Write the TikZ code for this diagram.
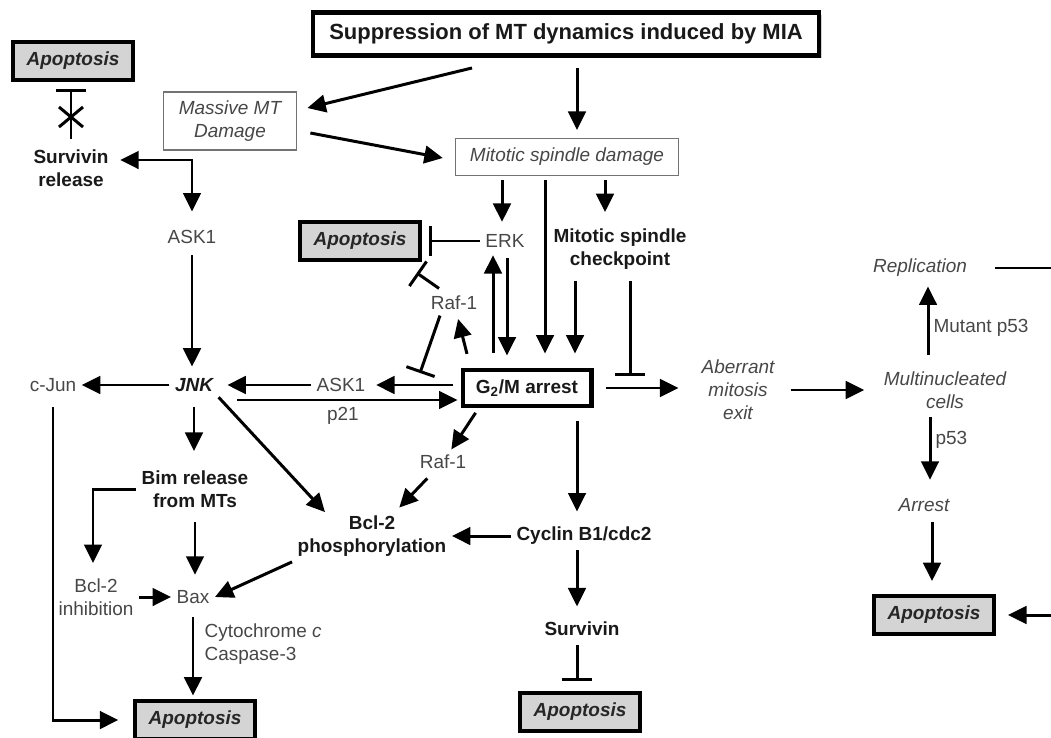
\documentclass[tikz,border=0pt]{standalone}
\usepackage{fontspec}
\setmainfont{Liberation Sans}
\usetikzlibrary{arrows.meta,shadows}

\begin{document}
\begin{tikzpicture}[x=0.02cm, y=-0.02cm,
    >={Triangle[length=10.5pt,width=10pt]},
    lbl/.style={inner sep=3pt, align=center, text=black!72,
                font=\fontsize{10.8}{13}\selectfont},
    bold/.style={lbl, text=black!90, font=\fontsize{10.8}{13}\selectfont\bfseries},
    ital/.style={lbl, font=\fontsize{10.8}{13}\selectfont\itshape},
    thin/.style={ital, draw=black!55, line width=0.7pt},
    apop/.style={draw, line width=2.3pt, fill=black!17, minimum width=68pt,
                 minimum height=21.5pt, text=black!85,
                 font=\fontsize{10.8}{13}\selectfont\bfseries\itshape},
    arrow/.style={->, line width=1.7pt},
    inhib/.style={-{Bar[width=17pt]}, line width=1.7pt}
  ]
    \useasboundingbox (0,0) rectangle (1051,737);
    \clip (0,0) rectangle (1051,737);

    \node[bold, draw, fill=white, line width=2.8pt, minimum width=288pt, minimum height=24.5pt,
          drop shadow={shadow xshift=1.5pt, shadow yshift=-1.5pt, opacity=0.35},
          font=\fontsize{12.5}{15}\selectfont\bfseries] (mia) at (566,34)
          {Suppression of MT dynamics induced by MIA};
    \node[apop] (apoTL) at (73,61) {Apoptosis};
    \node[thin, minimum width=76pt, minimum height=33pt] (massive) at (230,121) {Massive MT\\Damage};
    \node[thin, minimum width=127pt, minimum height=21pt] (spindle) at (567,157) {Mitotic spindle damage};
    \node[bold] (survrel) at (71,168) {Survivin\\release};
    \coordinate (split) at (192,160);
    \coordinate (xm) at (71,117);
    \node[lbl] (askA) at (192,237) {ASK1};
    \node[apop] (apoM) at (360,241) {Apoptosis};
    \node[lbl] (erk) at (505,241) {ERK};
    \node[bold] (msc) at (620,249) {Mitotic spindle\\checkpoint};
    \node[lbl] (rafA) at (454,303) {Raf-1};
    \coordinate (blk) at (420,373);
    \coordinate (blk2) at (630,376);
    \node[bold, font=\fontsize{10.8}{13}\selectfont\bfseries\itshape] (jnk) at (194,385) {JNK};
    \node[lbl] (cjun) at (53,385) {c-Jun};
    \node[lbl] (askB) at (341,385) {ASK1};
    \node[bold, draw, line width=2.3pt, minimum width=73.4pt, minimum height=21pt] (gm) at (527,388)
          {G\textsubscript{2}/M arrest};
    \node[ital] (aberr) at (738,390) {Aberrant\\mitosis\\exit};
    \node[ital] (multi) at (945,390) {Multinucleated\\cells};
    \node[ital] (repl) at (920,268) {Replication};
    \coordinate (loop) at (1075,268);
    \node[lbl, anchor=west] (mut) at (928,328) {Mutant p53};
    \node[lbl, anchor=west] (pp) at (930,440) {p53};
    \node[ital] (arrest) at (924,505) {Arrest};
    \node[apop] (apoR) at (934,615) {Apoptosis};
    \node[lbl] (rafB) at (443,462) {Raf-1};
    \node[bold] (bim) at (195,489) {Bim release\\from MTs};
    \node[bold] (bclp) at (372,536) {Bcl-2\\phosphorylation};
    \node[bold] (cyclin) at (584,536) {Cyclin B1/cdc2};
    \node[lbl] (bclinh) at (96,597) {Bcl-2\\inhibition};
    \node[lbl] (bax) at (193,597) {Bax};
    \node[lbl, anchor=west, align=left] (cyto) at (199,644) {Cytochrome \textit{c}\\Caspase-3};
    \node[bold] (survB) at (582,629) {Survivin};
    \node[apop] (apoBC) at (580,712) {Apoptosis};
    \node[apop] (apoBL) at (195,720) {Apoptosis};

    \draw[arrow] ([shift={(-94,10)}]mia.south) -- ([shift={(10,-13)}]massive.east);
    \draw[arrow] ([shift={(11,10)}]mia.south) -- ([shift={(10,-8)}]spindle.north);
    \draw[arrow] ([shift={(13,12)}]massive.east) -- ([shift={(-12,1)}]spindle.west);
    \draw[inhib, shorten <=3pt, shorten >=4pt] (survrel.north) -- (survrel.north |- apoTL.south);
    \draw[line width=1.7pt] (xm) +(-12,-10) -- +(12,10) (xm) +(-12,10) -- +(12,-10);
    \draw[arrow, <->, shorten <=3.5pt, shorten >=7.5pt] (split -| survrel.east) -- (split) -- (askA.north);
    \draw[arrow, shorten <=3.5pt, shorten >=3.5pt] (askA.south) -- (askA.south |- jnk.north);
    \draw[arrow] (jnk) -- (cjun);
    \draw[arrow, shorten <=5.7pt, shorten >=8.5pt] (cjun.south) |- (apoBL.west);
    \draw[arrow, shorten >=5pt] (askB) -- (jnk);
    \draw[arrow, shorten <=4.5pt, shorten >=3pt] (gm.west |- askB) -- (askB);
    \draw[arrow] ([shift={(43,15)}]jnk.center) -- node[lbl, below, pos=0.48] (p21) {p21} ([shift={(-3,12)}]gm.west);
    \draw[arrow, shorten <=5.5pt, shorten >=8pt] (jnk.south) -- (jnk.south |- bim.north);
    \draw[arrow] (jnk.south east) -- ([shift={(-47,2)}]bclp.north);
    \draw[arrow] (bim.west) -| ([shift={(-3,-10)}]bclinh.north);
    \draw[arrow, shorten <=5pt, shorten >=5.7pt] (bim.south) -- (bim.south |- bax.north);
    \draw[arrow] (bclinh) -- (bax);
    \draw[arrow] (bclp.south west) -- (bax.east);
    \draw[arrow, shorten <=4.5pt, shorten >=2pt] (bax.south) -- (bax.south |- apoBL.north);
    \draw[arrow, shorten <=3pt] ([shift={(18,0)}]gm.south west) -- (rafB);
    \draw[arrow, shorten <=3pt, shorten >=2pt] (rafB) -- (bclp);
    \draw[arrow, shorten <=7pt, shorten >=5.7pt] ([shift={(50,0)}]gm.south) -- ([shift={(-7,0)}]cyclin.north);
    \draw[arrow, shorten >=5.7pt] ([shift={(-7,0)}]cyclin.south) -- ([shift={(-5,0)}]survB.north);
    \draw[inhib, shorten <=2pt, shorten >=5.7pt] ([shift={(-5,0)}]survB.south) -- ([shift={(-3,0)}]apoBC.north);
    \draw[arrow] (cyclin.west) -- (cyclin.west -| bclp.east);
    \draw[arrow, shorten <=8pt, shorten >=2pt] ([shift={(10,0)}]gm.north west) -- (rafA);
    \draw[inhib] ([shift={(-14,0)}]rafA.south) -- (blk);
    \draw[inhib] ([shift={(-15,-2)}]rafA.north) -- ([shift={(-5,11)}]apoM.south east);
    \draw[inhib, shorten >=4pt] (erk) -- (apoM);
    \draw[arrow] ([shift={(-65,4)}]spindle.south) -- ([shift={(-3,-7)}]erk.north);
    \draw[arrow] ([shift={(2,5)}]erk.south) -- ([shift={(-20,-12)}]gm.north);
    \draw[arrow] ([shift={(-34,-15)}]gm.north) -- ([shift={(-12,2)}]erk.south);
    \draw[arrow] ([shift={(-22,4)}]spindle.south) -- ([shift={(18,-14)}]gm.north);
    \draw[arrow] ([shift={(38,4)}]spindle.south) -- ([shift={(-15,-11)}]msc.north);
    \draw[arrow] ([shift={(-45,6)}]msc.south) -- ([shift={(48,-14)}]gm.north);
    \draw[inhib] ([shift={(10,6)}]msc.south) -- (blk2);
    \draw[arrow, shorten <=7pt, shorten >=10pt] (gm.east) -- (gm.east -| aberr.west);
    \draw[arrow, shorten <=6pt, shorten >=8pt] (aberr) -- (multi);
    \draw[arrow] ([shift={(-17,-11)}]multi.north) -- ([shift={(8,4)}]repl.south);
    \draw[arrow] ([shift={(-15,3)}]multi.south) -- ([shift={(6,-13)}]arrest.north);
    \draw[arrow] ([shift={(8,5)}]arrest.south) -- ([shift={(-2,-13)}]apoR.north);
    \draw[arrow, shorten <=13pt, shorten >=7pt] (repl.east) -- (loop) |- (apoR.east);
  \end{tikzpicture}
\end{document}
